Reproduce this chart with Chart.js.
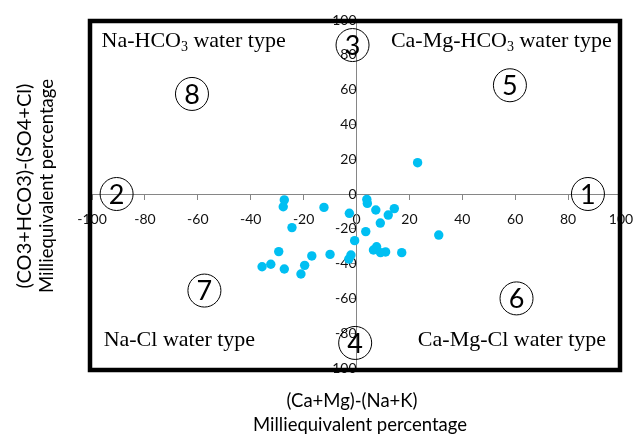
<!DOCTYPE html>
<html><head><meta charset="utf-8">
<script src="https://cdn.jsdelivr.net/npm/chart.js@4.4.1/dist/chart.umd.min.js"></script>
<style>html,body{margin:0;padding:0;background:#fff;}#wrap{width:635px;height:435px;}</style>
</head><body><div id="wrap"><canvas id="c" width="635" height="435"></canvas></div>
<script>
// (Ca+Mg)-(Na+K) milliequivalent percentage
const xValues = [23.1, -27.3, -27.7, -12.3, -2.7, 3.9, 4.1, 7.3, 14.3, 12.0, 9.0, -24.4, 3.5, -0.7, 31.1, -29.4, 7.6, 6.4, 9.1, 11.0, 17.1, -10.0, -2.1, -2.9, -16.9, -35.7, -32.4, -27.3, -19.6, -21.0];
// (CO3+HCO3)-(SO4+Cl) milliequivalent percentage
const yValues = [18.0, -3.4, -7.3, -7.7, -11.1, -3.1, -5.4, -9.2, -8.4, -12.1, -16.7, -19.3, -21.6, -26.8, -23.6, -33.1, -30.3, -32.2, -33.7, -33.3, -33.7, -34.7, -35.1, -37.4, -35.6, -41.8, -40.4, -43.1, -41.0, -46.0];
const tickValues = [-100, -80, -60, -40, -20, 0, 20, 40, 60, 80, 100];
const xTitle = ['(Ca+Mg)-(Na+K)', 'Milliequivalent percentage'];
const yTitle = ['(CO3+HCO3)-(SO4+Cl)', 'Milliequivalent percentage'];
const fieldNumbers = ['1', '2', '3', '4', '5', '6', '7', '8'];
const fieldNumberX = [87.5, -90.7, -1.5, -0.5, 58, 60.5, -57.5, -62.2];
const fieldNumberY = [0, 0, 85.6, -85.6, 62.5, -60, -55.5, 57.5];
// water types: [prefix, subscript, suffix]
const waterTypes = [['Na-HCO', '3', ' water type'], ['Ca-Mg-HCO', '3', ' water type'], ['Na-Cl water type', '', ''], ['Ca-Mg-Cl water type', '', '']];
const waterTypeX = [-96.4, 13.0, -95.6, 23.2];
const waterTypeY = [84.5, 84.5, -87.2, -87.2];

const points = xValues.map((x, i) => ({x: x, y: yValues[i]}));

const decor = {
  id: 'decor',
  afterDraw(chart) {
    const ctx = chart.ctx, a = chart.chartArea;
    const sx = chart.scales.x, sy = chart.scales.y;
    ctx.save();
    // frame
    ctx.strokeStyle = '#000';
    ctx.lineWidth = 4.5;
    ctx.strokeRect(a.left - 2, a.top + 1, a.right - a.left + 1, a.bottom - a.top + 1);
    // water types
    ctx.fillStyle = '#000';
    ctx.textBaseline = 'alphabetic';
    ctx.textAlign = 'left';
    waterTypes.forEach((w, i) => {
      let px = sx.getPixelForValue(waterTypeX[i]);
      const py = sy.getPixelForValue(waterTypeY[i]);
      ctx.font = '22px "Liberation Serif"';
      ctx.fillText(w[0], px, py);
      px += ctx.measureText(w[0]).width;
      if (w[1]) {
        ctx.font = '14px "Liberation Serif"';
        ctx.fillText(w[1], px, py + 4);
        px += ctx.measureText(w[1]).width;
        ctx.font = '22px "Liberation Serif"';
        ctx.fillText(w[2], px, py);
      }
    });
    // circled numbers
    ctx.lineWidth = 1;
    ctx.textAlign = 'center';
    ctx.textBaseline = 'middle';
    ctx.font = '27px Lato';
    fieldNumbers.forEach((n, i) => {
      const px = sx.getPixelForValue(fieldNumberX[i]);
      const py = sy.getPixelForValue(fieldNumberY[i]);
      ctx.beginPath();
      ctx.arc(px, py, 16.5, 0, Math.PI * 2);
      ctx.stroke();
      ctx.fillText(n, px, py + 1);
    });
    // axis titles
    ctx.font = '18.5px Lato';
    ctx.textBaseline = 'middle';
    ctx.fillText(xTitle[0], 352, 401);
    ctx.fillText(xTitle[1], 360, 425);
    ctx.translate(25, 186);
    ctx.rotate(-Math.PI / 2);
    ctx.font = '20px Lato';
    ctx.fillText(yTitle[0], 0, 0);
    ctx.font = '18.5px Lato';
    ctx.fillText(yTitle[1], 0, 22);
    ctx.restore();
  }
};

new Chart(document.getElementById('c'), {
  type: 'scatter',
  data: {datasets: [{data: points, backgroundColor: '#00BFF2', borderWidth: 0, pointRadius: 4.7, pointHoverRadius: 4.7}]},
  options: {
    responsive: false, animation: false, devicePixelRatio: 1,
    layout: {padding: {left: 92, right: 14, top: 20, bottom: 67}},
    plugins: {legend: {display: false}, tooltip: {enabled: false}},
    scales: {
      x: {
        type: 'linear', position: {y: 0}, min: -100, max: 100,
        afterBuildTicks: s => { s.ticks = tickValues.map(v => ({value: v})); },
        afterFit: s => { s.paddingLeft = 0; s.paddingRight = 0; },
        ticks: {autoSkip: false, maxRotation: 0, padding: 12, color: '#111', font: {family: 'Lato', size: 14}},
        grid: {drawOnChartArea: false, drawTicks: true, tickLength: 5, color: '#868686'},
        border: {color: '#868686', width: 1}
      },
      y: {
        type: 'linear', position: {x: 0}, min: -100, max: 100,
        afterBuildTicks: s => { s.ticks = tickValues.map(v => ({value: v})); },
        afterFit: s => { s.paddingTop = 0; s.paddingBottom = 0; },
        ticks: {autoSkip: false, padding: 8, color: '#111', font: {family: 'Lato', size: 14}},
        grid: {drawOnChartArea: false, drawTicks: true, tickLength: 5, color: '#868686'},
        border: {color: '#868686', width: 1}
      }
    }
  },
  plugins: [decor]
});
</script></body></html>
